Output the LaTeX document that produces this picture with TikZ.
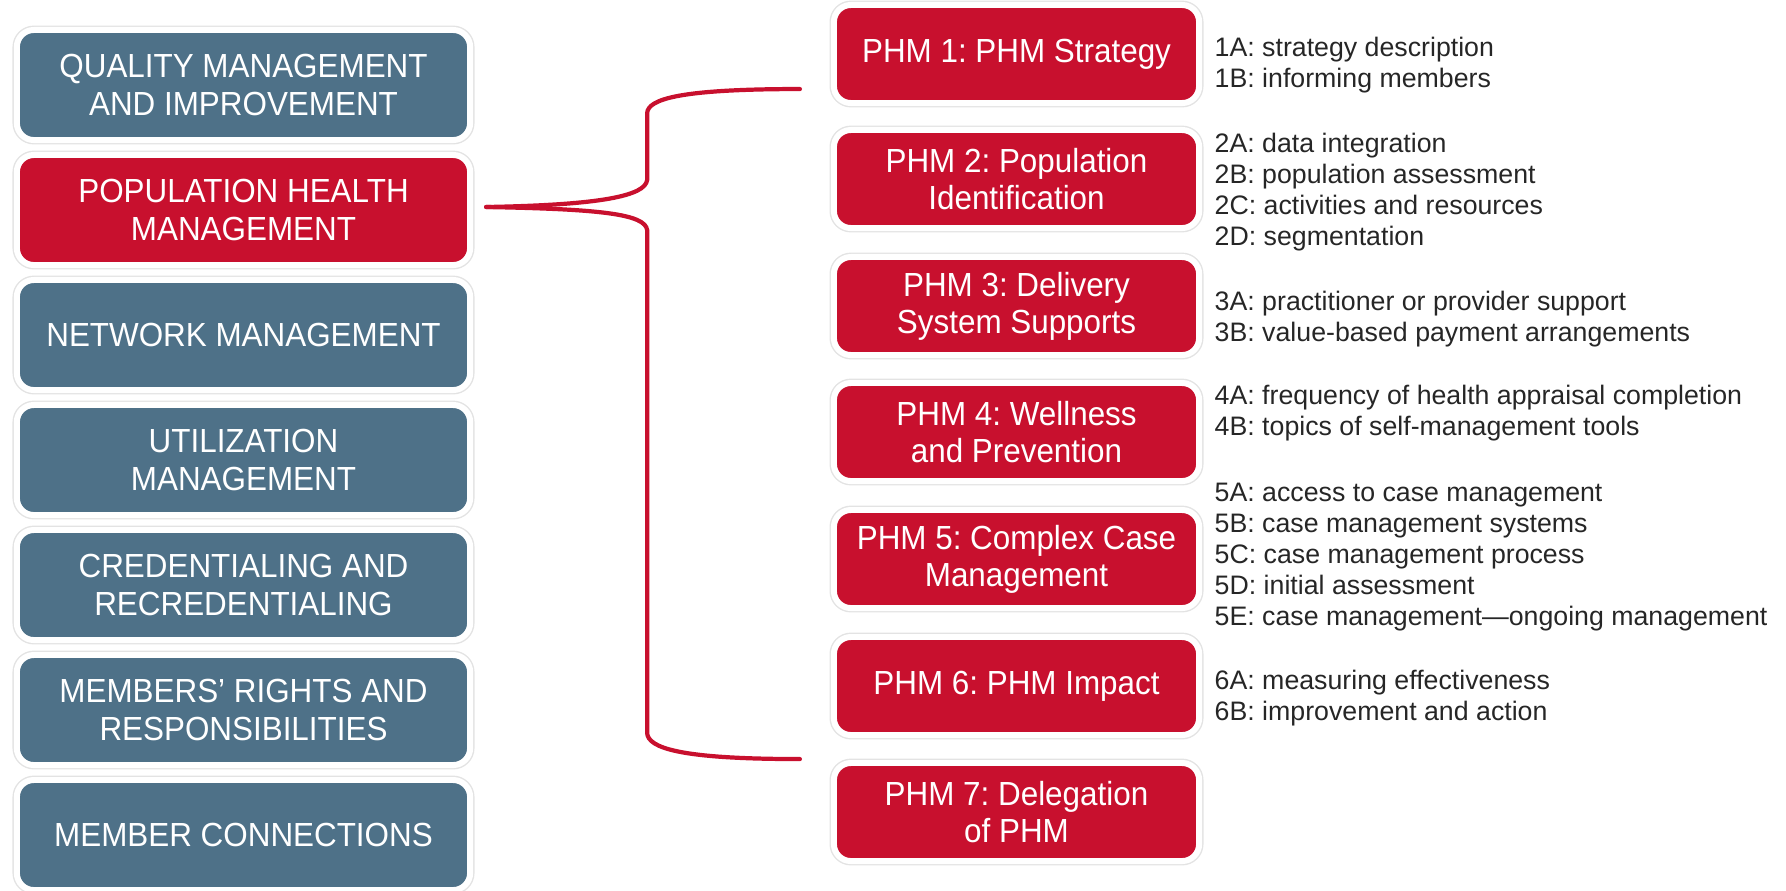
\documentclass[tikz,border=0pt]{standalone}
\usepackage{fontspec}
\setmainfont{Liberation Sans}
\newfontfamily\boxfont[FakeStretch=0.94]{Liberation Sans}
\usetikzlibrary{positioning}
\frenchspacing

\definecolor{phmred}{RGB}{200,16,46}
\definecolor{slateblue}{RGB}{78,113,136}
\definecolor{listgray}{RGB}{38,38,38}

\begin{document}
\begin{tikzpicture}[x=0.01cm,y=-0.01cm,
  area/.style={rectangle,
       rounded corners=0.17cm,
       fill=slateblue,
       draw=white,
       line width=1.7pt,
       preaction={draw=black!11, line width=2.5pt},
       minimum width=4.53cm,
       minimum height=1.10cm,
       inner sep=0pt,
       text=white,
       align=center,
       font={\boxfont\fontsize{9.5pt}{10.6pt}\selectfont}},
  current/.style={area, fill=phmred},
  phm/.style={area, fill=phmred, minimum width=3.65cm, minimum height=0.98cm},
  items/.style={anchor=base west,
       inner sep=0pt,
       align=left,
       text=listgray,
       font={\fontsize{7.6pt}{8.8pt}\selectfont}},
  brace/.style={draw=phmred, line width=1.2pt, line cap=round}]
\useasboundingbox (0,0) rectangle (1786,890);

% standards areas
\node [area]    (qi) at (243.5,85)  {QUALITY MANAGEMENT\\AND IMPROVEMENT};
\node [current] (pm) at (243.5,210) {POPULATION HEALTH\\MANAGEMENT};
\node [area]    (nm) at (243.5,335) {NETWORK MANAGEMENT};
\node [area]    (um) at (243.5,460) {UTILIZATION\\MANAGEMENT};
\node [area]    (cr) at (243.5,585) {CREDENTIALING AND\\RECREDENTIALING};
\node [area]    (rr) at (243.5,710) {MEMBERS’ RIGHTS AND\\RESPONSIBILITIES};
\node [area]    (mc) at (243.5,835) {MEMBER CONNECTIONS};

% PHM standards
\node [phm] (phm1) at (1016.5,54)  {PHM 1: PHM Strategy};
\node [phm] (phm2) at (1016.5,179) {PHM 2: Population\\Identification};
\node [phm] (phm3) at (1016.5,306) {PHM 3: Delivery\\System Supports};
\node [phm] (phm4) at (1016.5,432) {PHM 4: Wellness\\and Prevention};
\node [phm] (phm5) at (1016.5,559) {PHM 5: Complex Case\\Management};
\node [phm] (phm6) at (1016.5,686) {PHM 6: PHM Impact};
\node [phm] (phm7) at (1016.5,812) {PHM 7: Delegation\\of PHM};

% elements of each standard (placed by their last line)
\node [items] (el1) at (1214,87)  {1A: strategy description\\1B: informing members};
\node [items] (el2) at (1214,245) {2A: data integration\\2B: population assessment\\2C: activities and resources\\2D: segmentation};
\node [items] (el3) at (1214,341) {3A: practitioner or provider support\\3B: value-based payment arrangements};
\node [items] (el4) at (1214,435) {4A: frequency of health appraisal completion\\4B: topics of self-management tools};
\node [items] (el5) at (1214,625) {5A: access to case management\\5B: case management systems\\5C: case management process\\5D: initial assessment\\5E: case management—ongoing management};
\node [items] (el6) at (1214,720) {6A: measuring effectiveness\\6B: improvement and action};

% brace from PHM to its standards
\coordinate (bs) at ([xshift=0.13cm,yshift=0.03cm]pm.east);
\coordinate (bt) at ([xshift=-0.31cm,yshift=-0.35cm]phm1.west);
\coordinate (bb) at ([xshift=-0.31cm,yshift=-0.73cm]phm6.west);
\draw [brace] (bs) .. controls +(114,-2) and +(-2,16) .. ++(161,-27)
      -- ++(0,-67) .. controls +(1,-14) and +(-120,0) .. (bt);
\draw [brace] (bs) .. controls +(114,2) and +(-2,-16) .. ++(161,23)
      -- ++(0,503) .. controls +(1,15) and +(-120,0) .. (bb);
\end{tikzpicture}
\end{document}
